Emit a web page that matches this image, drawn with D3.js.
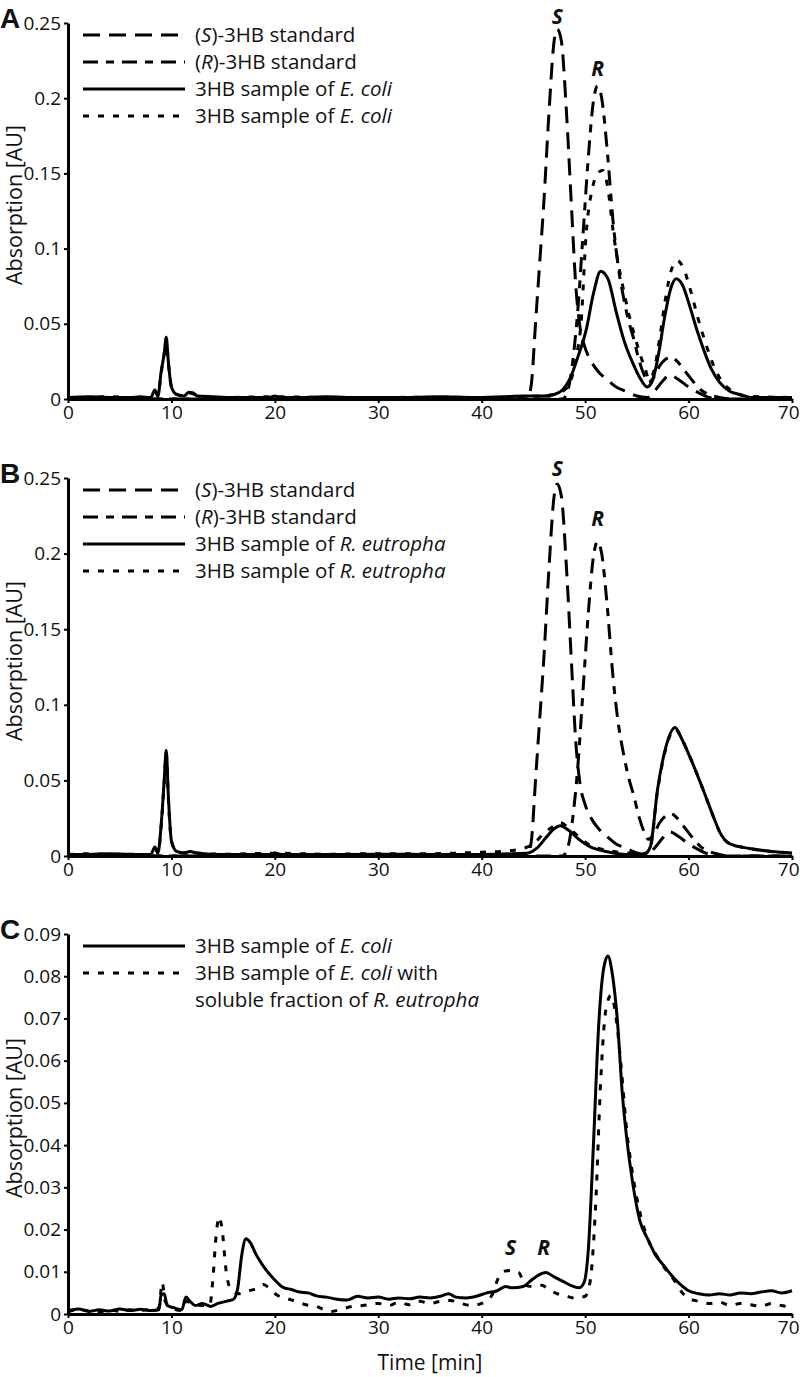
<!DOCTYPE html>
<html lang="en">
<head>
<meta charset="utf-8">
<title>3HB chromatograms</title>
<script src="https://cdn.jsdelivr.net/npm/d3@7"></script>
<style>
  body { margin: 0; background: #fff; }
  svg text { font-family: "Open Sans", "Noto Sans", sans-serif; fill: #111; }
</style>
</head>
<body>
<script>
// tick labels
var timeTicks = [0, 10, 20, 30, 40, 50, 60, 70];
var absTicksAB = [0, 0.05, 0.1, 0.15, 0.2, 0.25];
var absTicksC = [0, 0.01, 0.02, 0.03, 0.04, 0.05, 0.06, 0.07, 0.08, 0.09];

// standards (same in A and B): [time min, absorption AU]
var stdS = [[0,0],[44.4,0],[44.8,0.01],[45.2,0.05],[45.6,0.09],[46.0,0.13],[46.5,0.19],[47.0,0.238],[47.3,0.246],
  [47.7,0.238],[48.2,0.19],[48.7,0.125],[49.1,0.075],[49.5,0.048],[50,0.034],[50.5,0.026],[51.3,0.018],[52.1,0.013],
  [53,0.008],[54,0.005],[55,0.002],[56,0.001],[56.8,0.006],[57.5,0.012],[58.2,0.016],[59,0.013],[60,0.008],
  [61,0.004],[62,0.001],[63,0],[70,0]];
var stdR = [[0,0],[47.8,0],[48.3,0.005],[48.8,0.025],[49.3,0.06],[49.8,0.11],[50.3,0.16],[50.8,0.198],[51.2,0.208],
  [51.6,0.2],[52.1,0.168],[52.7,0.118],[53.2,0.088],[53.7,0.068],[54.2,0.052],[54.7,0.04],[55.2,0.026],[55.7,0.016],
  [56.1,0.011],[56.6,0.014],[57.2,0.022],[57.7,0.026],[58.3,0.028],[58.9,0.025],[59.6,0.019],[60.4,0.012],
  [61.2,0.006],[62,0.003],[63,0.001],[64,0],[70,0]];

// panel A samples (E. coli)
var ecoliSolidA = [[0,0.001],[2,0.0015],[4,0.001],[6,0.001],[7,0.0015],[8,0.001],[8.4,0.006],[8.7,0.002],[9.0,0.018],
  [9.3,0.03],[9.5,0.041],[9.7,0.025],[10.0,0.008],[10.5,0.003],[11.2,0.002],[11.7,0.0045],[12.1,0.004],[12.5,0.002],
  [14,0.0015],[16,0.001],[18,0.001],[19.5,0.001],[20,0.002],[20.5,0.001],[23,0.001],[25,0.0015],[27,0.001],
  [30,0.001],[33,0.001],[36,0.0015],[39,0.001],[42,0.0015],[44,0.002],[46,0.002],[47,0.003],[47.8,0.006],
  [48.5,0.013],[49.3,0.028],[50.1,0.046],[50.8,0.07],[51.5,0.085],[52.2,0.08],[53,0.058],[53.8,0.038],
  [54.6,0.024],[55.3,0.014],[56,0.008],[56.5,0.012],[57.1,0.03],[57.7,0.055],[58.3,0.074],[58.8,0.08],
  [59.4,0.076],[60.1,0.062],[60.8,0.046],[61.5,0.032],[62.2,0.02],[63,0.011],[64,0.005],[65,0.003],
  [66,0.001],[70,0.001]];
var ecoliDotA = [[0,0.001],[2,0.001],[4,0.0015],[6,0.001],[8,0.001],[8.4,0.005],[8.7,0.002],[9.0,0.017],
  [9.3,0.03],[9.5,0.04],[9.7,0.024],[10.0,0.008],[10.5,0.003],[11.2,0.002],[11.7,0.004],[12.1,0.0035],
  [12.5,0.002],[15,0.001],[20,0.0015],[25,0.001],[30,0.001],[35,0.0012],[40,0.001],[44,0.0015],[47,0.003],
  [48,0.006],[48.6,0.012],[49.2,0.03],[49.6,0.05],[50.1,0.11],[50.7,0.14],[51.2,0.15],[51.7,0.152],
  [52.2,0.14],[52.7,0.112],[53.2,0.09],[53.7,0.073],[54.2,0.057],[54.7,0.044],[55.3,0.03],[55.8,0.02],
  [56.2,0.013],[56.7,0.02],[57.2,0.04],[57.8,0.068],[58.3,0.085],[58.9,0.092],[59.5,0.087],[60.2,0.072],
  [60.9,0.054],[61.7,0.036],[62.5,0.021],[63.3,0.011],[64.3,0.005],[65.5,0.002],[70,0.001]];

// panel B samples (R. eutropha)
var reutSolidB = [[0,0.001],[2,0.001],[4,0.0015],[6,0.001],[8,0.001],[8.4,0.006],[8.7,0.002],[9.0,0.02],
  [9.3,0.05],[9.5,0.07],[9.7,0.04],[10.0,0.01],[10.5,0.003],[11.2,0.002],[11.8,0.003],[12.4,0.002],[15,0.001],
  [19.5,0.001],[20,0.002],[20.6,0.001],[25,0.001],[30,0.0012],[35,0.001],[40,0.001],[43,0.0015],[44.5,0.002],
  [45.3,0.005],[46.2,0.012],[47,0.018],[47.6,0.02],[48.4,0.017],[49.4,0.011],[50.5,0.006],[52,0.003],
  [54,0.001],[55.7,0.001],[56.3,0.006],[57,0.044],[57.8,0.072],[58.7,0.085],[59.3,0.078],[60.1,0.066],
  [61.4,0.044],[62.4,0.026],[63,0.016],[64,0.008],[65.9,0.005],[68,0.003],[70,0.002]];
var reutDotB = [[0,0.001],[2,0.0015],[4,0.001],[6,0.0012],[8,0.001],[8.4,0.005],[8.7,0.002],[9.0,0.019],
  [9.3,0.048],[9.5,0.068],[9.7,0.038],[10.0,0.01],[10.5,0.003],[11.2,0.002],[11.8,0.003],[12.4,0.002],
  [15,0.0012],[20,0.0018],[25,0.0012],[30,0.0015],[35,0.0015],[38,0.002],[40,0.0025],[42,0.003],[44,0.005],
  [45,0.008],[46,0.015],[47,0.02],[47.6,0.022],[48.5,0.018],[49.5,0.012],[50.5,0.007],[52,0.004],[54,0.002],
  [55.7,0.0015],[56.3,0.006],[57,0.043],[57.8,0.071],[58.7,0.084],[59.3,0.078],[60.1,0.066],[61.4,0.044],
  [62.4,0.026],[63,0.016],[64,0.008],[65.9,0.005],[68,0.003],[70,0.002]];

// panel C samples
var ecoliC = [[0,0.0008],[1,0.0012],[2,0.0006],[3,0.001],[4,0.0007],[5,0.0012],[6,0.0008],[7,0.0011],[8,0.0008],
  [8.8,0.001],[9.0,0.0045],[9.3,0.0048],[9.6,0.002],[10.2,0.0015],[11,0.001],[11.4,0.004],[11.8,0.003],
  [12.3,0.002],[13,0.0025],[13.8,0.0018],[14.5,0.0025],[15.3,0.003],[16,0.0035],[16.4,0.006],[16.8,0.014],
  [17.2,0.0178],[17.6,0.017],[18.2,0.014],[18.9,0.0113],[19.9,0.0083],[20.8,0.0063],[21.6,0.0058],
  [22.4,0.0052],[23.2,0.005],[24,0.0043],[25,0.004],[26,0.0035],[27,0.0033],[28,0.0042],[29,0.0038],
  [30,0.004],[31,0.0035],[32,0.0038],[33,0.0036],[34,0.004],[35,0.0038],[36,0.0042],[36.8,0.0048],
  [37.5,0.004],[38.5,0.0038],[39.5,0.0042],[40.5,0.005],[41.5,0.0055],[42.3,0.0065],[43,0.0062],[44,0.0065],
  [44.8,0.008],[45.5,0.0092],[46.2,0.0098],[47,0.0088],[47.8,0.0078],[48.6,0.0068],[49.4,0.0062],
  [49.9,0.0075],[50.3,0.015],[50.8,0.04],[51.3,0.068],[51.8,0.082],[52.2,0.0848],[52.6,0.081],[53.1,0.07],
  [53.6,0.052],[54,0.042],[54.6,0.031],[55.3,0.022],[56,0.018],[56.8,0.014],[57.6,0.0115],[58.4,0.009],
  [59.2,0.007],[60,0.0055],[61,0.0048],[62,0.0045],[63,0.0048],[64,0.0045],[65,0.005],[66,0.0048],
  [67,0.0052],[68,0.0055],[69,0.005],[70,0.0055]];
var ecoliReutC = [[0,0.0005],[1,0.001],[2,0.0008],[3,0.0005],[4,0.001],[5,0.0006],[6,0.001],[7,0.0008],
  [8,0.0012],[8.8,0.0015],[9.1,0.0075],[9.4,0.003],[10,0.0015],[11,0.0008],[11.4,0.003],[12,0.0025],
  [13,0.002],[13.7,0.002],[14,0.008],[14.3,0.018],[14.6,0.023],[14.9,0.02],[15.3,0.01],[15.7,0.006],
  [16.5,0.0048],[17.5,0.0055],[18.2,0.006],[18.9,0.007],[19.5,0.006],[20.2,0.0045],[21,0.0038],[22,0.003],
  [23,0.0022],[24,0.0018],[24.8,0.001],[25.5,0.0006],[26.5,0.0012],[27.5,0.0018],[28.5,0.002],[30,0.0025],
  [31,0.002],[32,0.0028],[33,0.0022],[34,0.003],[35,0.0025],[36,0.003],[37,0.0032],[38,0.0025],[39,0.002],
  [40,0.0025],[41,0.0045],[41.6,0.0085],[42.3,0.0102],[43,0.0103],[43.6,0.0098],[44.2,0.0068],[45,0.0065],
  [45.8,0.0068],[46.5,0.0058],[47.3,0.0048],[48.2,0.0042],[49,0.0038],[50,0.0042],[50.5,0.008],[51,0.025],
  [51.5,0.055],[52,0.072],[52.5,0.0755],[53,0.07],[53.5,0.058],[54,0.044],[54.6,0.033],[55.4,0.023],
  [56.2,0.017],[57,0.0135],[57.8,0.0105],[58.6,0.008],[59.4,0.005],[60.2,0.0035],[61,0.003],[62,0.0025],
  [63,0.0028],[64,0.002],[65,0.0025],[66,0.0022],[67,0.0018],[68,0.0025],[69,0.002],[70,0.0015]];

// dash styles
var dashS = "17,9", dashR = "15,8,8,8", dashDot = "6,9";

var width = 800, height = 1377;

var svg = d3.select("body").append("svg")
    .attr("width", width)
    .attr("height", height);

var x = d3.scaleLinear().domain([0, 70]).range([68, 792]);

var line = d3.line()
    .x(function(d) { return x(d[0]); })
    .curve(d3.curveMonotoneX);

// [text, italic] pieces for each legend row
var legendStd = [
  { dash: dashS, parts: [["(", 0], ["S", 1], [")-3HB standard", 0]] },
  { dash: dashR, parts: [["(", 0], ["R", 1], [")-3HB standard", 0]] }
];

var panels = [
  { letter: "A", top: 23, bottom: 399, yMax: 0.25, ticks: absTicksAB,
    series: [[stdS, dashS], [stdR, dashR], [ecoliSolidA, null], [ecoliDotA, dashDot]],
    legend: legendStd.concat([
      { dash: null, parts: [["3HB sample of ", 0], ["E. coli", 1]] },
      { dash: dashDot, parts: [["3HB sample of ", 0], ["E. coli", 1]] }]),
    marks: [["S", 47.3, 0.2495], ["R", 51.2, 0.215]] },
  { letter: "B", top: 478, bottom: 856, yMax: 0.25, ticks: absTicksAB,
    series: [[stdS, dashS], [stdR, dashR], [reutSolidB, null], [reutDotB, dashDot]],
    legend: legendStd.concat([
      { dash: null, parts: [["3HB sample of ", 0], ["R. eutropha", 1]] },
      { dash: dashDot, parts: [["3HB sample of ", 0], ["R. eutropha", 1]] }]),
    marks: [["S", 47.3, 0.251], ["R", 51.2, 0.218]] },
  { letter: "C", top: 934, bottom: 1314, yMax: 0.09, ticks: absTicksC,
    series: [[ecoliC, null], [ecoliReutC, dashDot]],
    legend: [
      { dash: null, parts: [["3HB sample of ", 0], ["E. coli", 1]] },
      { dash: dashDot, parts: [["3HB sample of ", 0], ["E. coli", 1], [" with", 0]] },
      { dash: "none", parts: [["soluble fraction of ", 0], ["R. eutropha", 1]] }],
    marks: [["S", 42.8, 0.0139], ["R", 46.0, 0.0139]] }
];

panels.forEach(function(p) {
    var y = d3.scaleLinear().domain([0, p.yMax]).range([p.bottom, p.top]);
    var g = svg.append("g");
    line.y(function(d) { return y(d[1]); });

    // x axis
    var xa = g.append("g")
        .attr("transform", "translate(0," + p.bottom + ")")
        .call(d3.axisBottom(x).tickValues(timeTicks).tickSize(4).tickSizeOuter(0).tickPadding(3));
    // y axis
    var ya = g.append("g")
        .attr("transform", "translate(" + x(0) + ",0)")
        .call(d3.axisLeft(y).tickValues(p.ticks).tickFormat(String).tickSize(4).tickSizeOuter(0).tickPadding(3));
    [xa, ya].forEach(function(a) {
        a.select(".domain").attr("stroke", "#000").attr("stroke-width", 3);
        a.selectAll(".tick line").attr("stroke", "#000").attr("stroke-width", 2);
        a.selectAll(".tick text").style("font-size", "19px").attr("fill", "#111");
    });
    // last time label sits against the right edge
    xa.selectAll(".tick text").filter(function(d) { return d === 70; })
        .attr("text-anchor", "end").attr("x", 7);

    // chromatogram traces
    p.series.forEach(function(s) {
        g.append("path")
            .datum(s[0])
            .attr("d", line)
            .attr("fill", "none")
            .attr("stroke", "#000")
            .attr("stroke-width", 3)
            .attr("stroke-linejoin", "round")
            .attr("stroke-dasharray", s[1]);
    });

    // legend
    p.legend.forEach(function(item, i) {
        var ly = p.top + 12 + i * 27;
        if (item.dash !== "none") {
            g.append("line")
                .attr("x1", 83).attr("x2", 185)
                .attr("y1", ly).attr("y2", ly)
                .attr("stroke", "#000")
                .attr("stroke-width", 3)
                .attr("stroke-dasharray", item.dash);
        }
        var t = g.append("text")
            .attr("x", 195).attr("y", ly)
            .attr("dy", "0.35em")
            .style("font-size", "20.5px");
        item.parts.forEach(function(part) {
            t.append("tspan").text(part[0]).style("font-style", part[1] ? "italic" : "normal");
        });
    });

    // S / R peak marks
    p.marks.forEach(function(m) {
        g.append("text")
            .attr("x", x(m[1])).attr("y", y(m[2]))
            .attr("text-anchor", "middle")
            .style("font-size", "21px")
            .style("font-weight", "bold")
            .style("font-style", "italic")
            .text(m[0]);
    });

    // panel letter
    g.append("text")
        .attr("x", 0).attr("y", p.top + 5)
        .style("font-size", "28px")
        .style("font-weight", "bold")
        .style("font-family", "Liberation Sans, Arial, sans-serif")
        .text(p.letter);

    // y axis title
    g.append("text")
        .attr("transform", "translate(14," + ((p.top + p.bottom) / 2 - 6) + ") rotate(-90)")
        .attr("text-anchor", "middle")
        .attr("dy", "0.35em")
        .style("font-size", "21.5px")
        .text("Absorption [AU]");
});

// time axis title
svg.append("text")
    .attr("x", (x(0) + x(70)) / 2)
    .attr("y", 1370)
    .attr("text-anchor", "middle")
    .style("font-size", "21px")
    .text("Time [min]");
</script>
</body>
</html>
